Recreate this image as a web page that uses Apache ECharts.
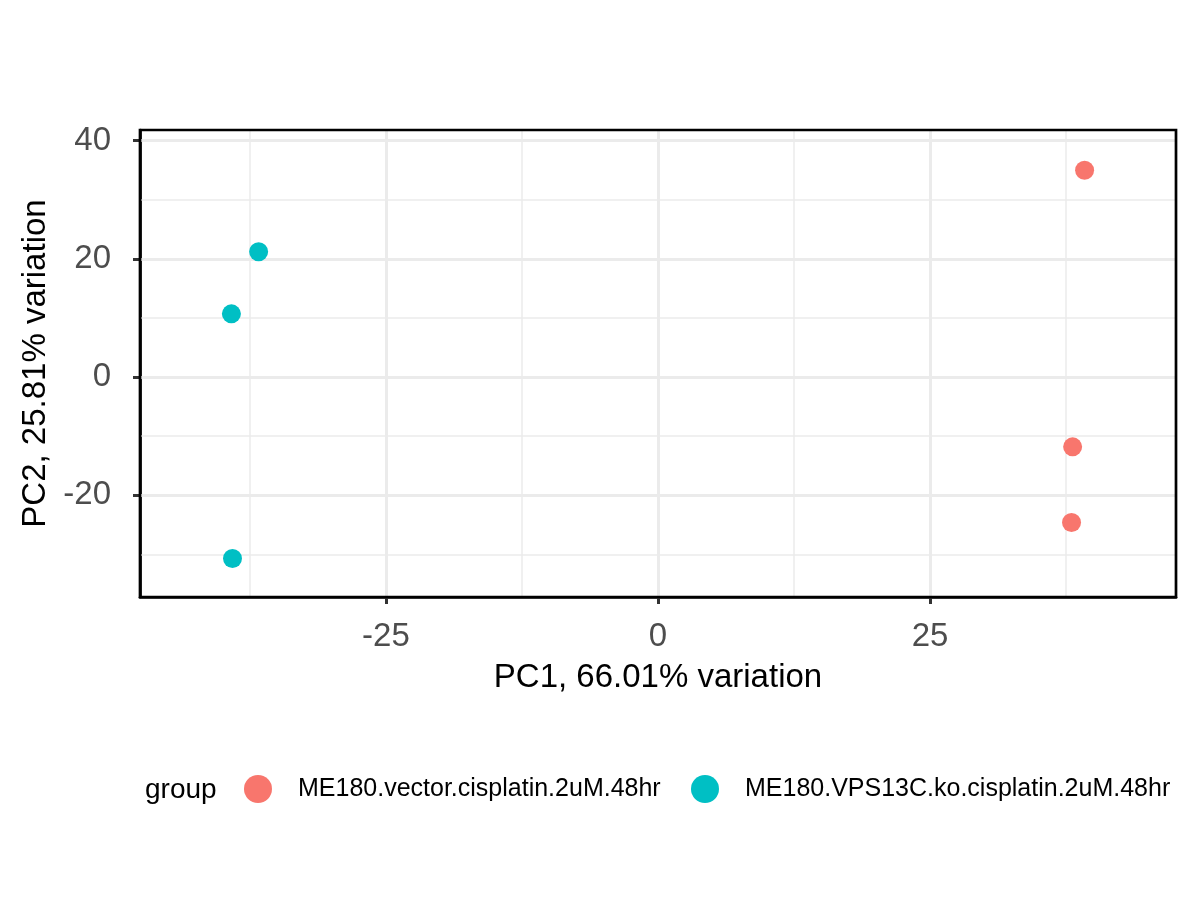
<!DOCTYPE html>
<html>
<head>
<meta charset="utf-8">
<script src="https://cdn.jsdelivr.net/npm/echarts@6/dist/echarts.min.js"></script>
<style>html,body{margin:0;padding:0;background:#fff;}#chart{width:1200px;height:900px;}</style>
</head>
<body>
<div id="chart"></div>
<script>
// Data
const groupNames = ['ME180.vector.cisplatin.2uM.48hr', 'ME180.VPS13C.ko.cisplatin.2uM.48hr'];
const groupColors = ['#F8766D', '#00BFC4'];
const vectorPoints = [[39.2, 35.0], [38.1, -11.8], [38.0, -24.6]];
const koPoints = [[-36.7, 21.2], [-39.2, 10.7], [-39.1, -30.7]];
const xTicks = [-25, 0, 25];
const yTicks = [-20, 0, 20, 40];
const xMinor = [-37.5, -12.5, 12.5, 37.5];
const yMinor = [-30, -10, 10, 30];
const xTitle = 'PC1, 66.01% variation';
const yTitle = 'PC2, 25.81% variation';
const legendTitle = 'group';

const FONT = 'Liberation Sans, Arial, Helvetica, sans-serif';
const gridColor = '#EBEBEB';

const chart = echarts.init(document.getElementById('chart'), null, {renderer: 'canvas'});

function lines(vals, key, width) {
  return vals.map(v => ({[key]: v, lineStyle: {width: width, color: gridColor, type: 'solid'}}));
}

const option = {
  animation: false,
  backgroundColor: '#fff',
  grid: {
    left: 140, right: 24, top: 130, bottom: 303,
    show: true, borderColor: '#000', borderWidth: 2.7, backgroundColor: 'transparent', z: 5
  },
  xAxis: {
    type: 'value', min: -47.6, max: 47.6,
    name: xTitle, nameLocation: 'middle', nameGap: 64,
    nameTextStyle: {fontFamily: FONT, fontSize: 33, color: '#000'},
    axisLine: {show: true, onZero: false, lineStyle: {color: '#000', width: 2.7}},
    axisTick: {show: true, customValues: xTicks, length: 7, lineStyle: {color: '#333', width: 3}},
    axisLabel: {customValues: xTicks, fontFamily: FONT, fontSize: 33, color: '#4D4D4D', margin: 23},
    splitLine: {show: false}
  },
  yAxis: {
    type: 'value', min: -37.2, max: 41.8,
    name: yTitle, nameLocation: 'middle', nameGap: 85,
    nameTextStyle: {fontFamily: FONT, fontSize: 33, color: '#000'},
    axisLine: {show: true, onZero: false, lineStyle: {color: '#000', width: 2.7}},
    axisTick: {show: true, customValues: yTicks, length: 7, lineStyle: {color: '#333', width: 3}},
    axisLabel: {customValues: yTicks, fontFamily: FONT, fontSize: 33, color: '#4D4D4D', margin: 29},
    splitLine: {show: false}
  },
  legend: [
    {
      left: 244, top: 775, padding: 0, itemWidth: 28, itemHeight: 28, icon: 'circle',
      data: [groupNames[0]], selectedMode: false,
      textStyle: {fontFamily: FONT, fontSize: 25, color: '#000', padding: [0, 0, 0, 21]}
    },
    {
      left: 691, top: 775, padding: 0, itemWidth: 28, itemHeight: 28, icon: 'circle',
      data: [groupNames[1]], selectedMode: false,
      textStyle: {fontFamily: FONT, fontSize: 25, color: '#000', padding: [0, 0, 0, 21]}
    }
  ],
  graphic: [{
    type: 'text', left: 145, top: 776,
    style: {text: legendTitle, font: '28px ' + FONT, fill: '#000'}
  }],
  series: [
    {
      type: 'scatter', name: 'grid', data: [], z: 1, silent: true,
      markLine: {
        silent: true, z: 1, symbol: ['none', 'none'], label: {show: false}, animation: false,
        data: [].concat(
          lines(xMinor, 'xAxis', 1.5), lines(yMinor, 'yAxis', 1.5),
          lines(xTicks, 'xAxis', 3), lines(yTicks, 'yAxis', 3)
        )
      }
    },
    {
      type: 'scatter', name: groupNames[0], data: vectorPoints, symbolSize: 19, z: 3,
      itemStyle: {color: groupColors[0], opacity: 1}
    },
    {
      type: 'scatter', name: groupNames[1], data: koPoints, symbolSize: 19, z: 3,
      itemStyle: {color: groupColors[1], opacity: 1}
    }
  ]
};
chart.setOption(option);
</script>
</body>
</html>
